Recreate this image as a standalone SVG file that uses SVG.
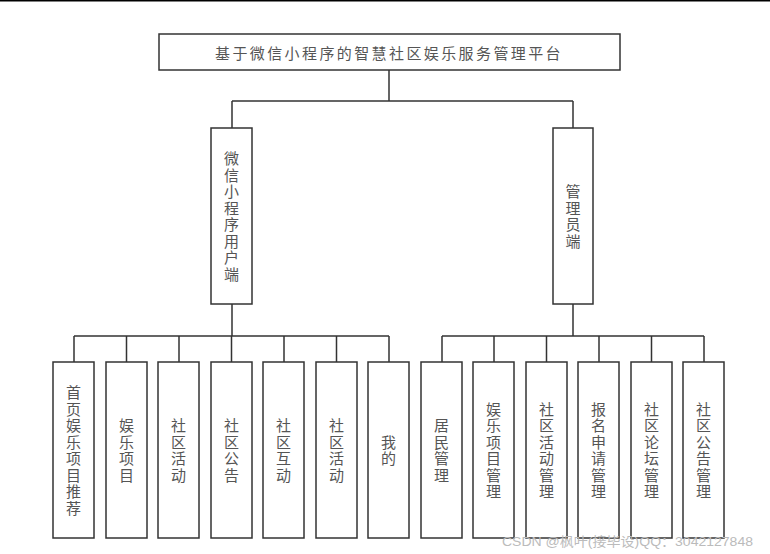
<svg xmlns="http://www.w3.org/2000/svg" width="770" height="554" viewBox="0 0 770 554">
<style>
.box{fill:#fff;stroke:#333;stroke-width:1.5}
.ln{fill:none;stroke:#333;stroke-width:1.5}
.t{font-family:"Noto Sans CJK SC","Noto Sans",sans-serif;font-size:15px;fill:#555;text-anchor:middle;dominant-baseline:central}
.v{writing-mode:vertical-rl;letter-spacing:1.5px}
.wm{font-family:"Liberation Sans","Noto Sans CJK SC",sans-serif;font-size:13px;fill:#bbb}
</style>
<rect width="770" height="554" fill="#fff"/>
<line x1="0" y1="0.5" x2="770" y2="0.5" stroke="#000" stroke-width="2"/>
<g id="connectors" class="ln">
<path d="M389 70V101M232 101H573M232 101V128M573 101V128"/>
<path d="M232 304V336M74 336H389M74 336V362M126.5 336V362M179 336V362M231.5 336V362M284 336V362M336.5 336V362M389 336V362"/>
<path d="M573 304V336M442 336H704M442 336V362M494 336V362M546.5 336V362M599 336V362M651.5 336V362M704 336V362"/>
</g>
<g id="root"><rect class="box" x="159" y="34" width="461" height="36"/><text class="t" x="389" y="52" letter-spacing="2.4">基于微信小程序的智慧社区娱乐服务管理平台</text></g>
<g id="user"><rect class="box" x="211" y="128" width="41" height="176"/><text class="t v" x="231.5" y="217">微信小程序用户端</text></g>
<g id="admin"><rect class="box" x="553" y="128" width="40" height="176"/><text class="t v" x="573" y="217">管理员端</text></g>
<g id="u1"><rect class="box" x="53" y="362" width="41" height="176"/><text class="t v" x="73.5" y="451">首页娱乐项目推荐</text></g>
<g id="u2"><rect class="box" x="106" y="362" width="41" height="176"/><text class="t v" x="126.5" y="451">娱乐项目</text></g>
<g id="u3"><rect class="box" x="158" y="362" width="41" height="176"/><text class="t v" x="178.5" y="451">社区活动</text></g>
<g id="u4"><rect class="box" x="211" y="362" width="41" height="176"/><text class="t v" x="231.5" y="451">社区公告</text></g>
<g id="u5"><rect class="box" x="263" y="362" width="41" height="176"/><text class="t v" x="283.5" y="451">社区互动</text></g>
<g id="u6"><rect class="box" x="316" y="362" width="41" height="176"/><text class="t v" x="336.5" y="451">社区活动</text></g>
<g id="u7"><rect class="box" x="368" y="362" width="41" height="176"/><text class="t v" x="388.5" y="451">我的</text></g>
<g id="a1"><rect class="box" x="421" y="362" width="41" height="176"/><text class="t v" x="441.5" y="451">居民管理</text></g>
<g id="a2"><rect class="box" x="473" y="362" width="41" height="176"/><text class="t v" x="493.5" y="451">娱乐项目管理</text></g>
<g id="a3"><rect class="box" x="526" y="362" width="41" height="176"/><text class="t v" x="546.5" y="451">社区活动管理</text></g>
<g id="a4"><rect class="box" x="578" y="362" width="41" height="176"/><text class="t v" x="598.5" y="451">报名申请管理</text></g>
<g id="a5"><rect class="box" x="631" y="362" width="41" height="176"/><text class="t v" x="651.5" y="451">社区论坛管理</text></g>
<g id="a6"><rect class="box" x="683" y="362" width="41" height="176"/><text class="t v" x="703.5" y="451">社区公告管理</text></g>
<text class="wm" x="502" y="546" textLength="251" lengthAdjust="spacingAndGlyphs">CSDN @枫叶(接毕设)QQ：3042127848</text>
</svg>
